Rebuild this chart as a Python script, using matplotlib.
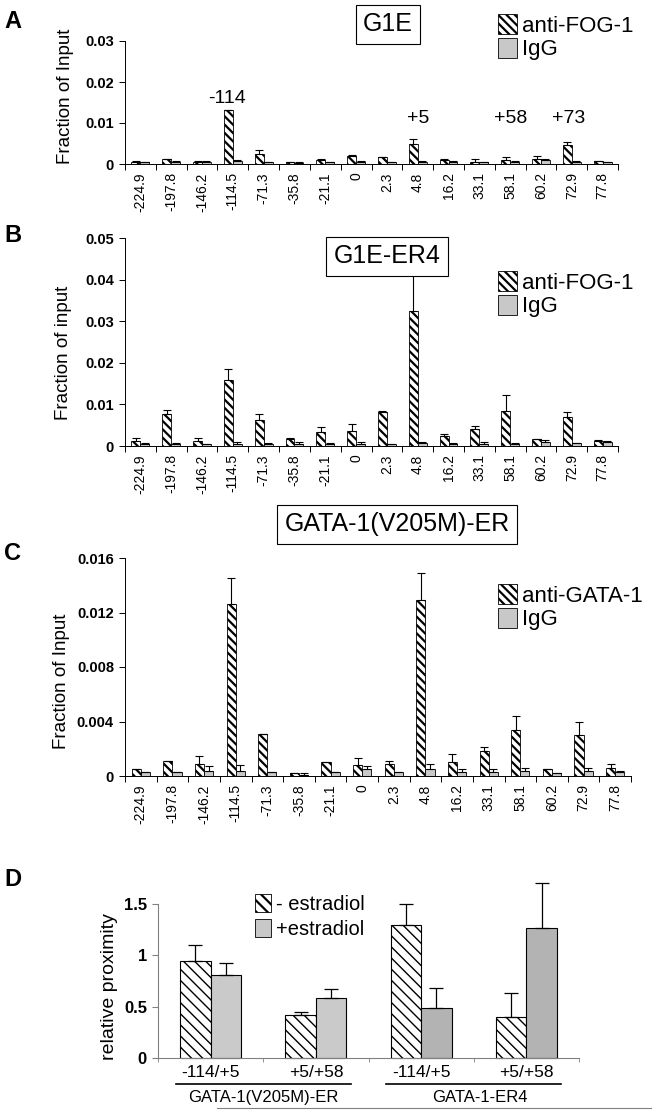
import numpy as np
import matplotlib.pyplot as plt
from matplotlib.patches import Patch
from matplotlib.lines import Line2D

plt.rcParams['font.family'] = ['Liberation Sans', 'DejaVu Sans']
plt.rcParams['hatch.color'] = 'black'
plt.rcParams['hatch.linewidth'] = 1.6

# positions along the locus (kb)
sites = ['-224.9', '-197.8', '-146.2', '-114.5', '-71.3', '-35.8', '-21.1', '0',
         '2.3', '4.8', '16.2', '33.1', '58.1', '60.2', '72.9', '77.8']

# A: G1E
a_fog = [0.0006, 0.0011, 0.0006, 0.0131, 0.0024, 0.0004, 0.0010, 0.0020,
         0.0017, 0.0050, 0.0010, 0.0005, 0.0010, 0.0011, 0.0047, 0.0007]
a_fog_err = [0.0001, 0.0001, 0.0001, 0.0001, 0.0011, 0.0001, 0.0002, 0.0001,
             0.0001, 0.0010, 0.0001, 0.0006, 0.0007, 0.0009, 0.0006, 0.0001]
a_igg = [0.0005, 0.0006, 0.0006, 0.0008, 0.0004, 0.0003, 0.0004, 0.0006,
         0.0004, 0.0006, 0.0006, 0.0004, 0.0006, 0.0009, 0.0006, 0.0005]
a_igg_err = [0.0001, 0.0001, 0.0001, 0.0001, 0.0001, 0.0001, 0.0001, 0.0001,
             0.0001, 0.0001, 0.0001, 0.0001, 0.0001, 0.0003, 0.0002, 0.0001]

# B: G1E-ER4
b_fog = [0.0012, 0.0078, 0.0012, 0.0158, 0.0063, 0.0018, 0.0033, 0.0036,
         0.0081, 0.0324, 0.0023, 0.0042, 0.0084, 0.0017, 0.0069, 0.0013]
b_fog_err = [0.0008, 0.0009, 0.0008, 0.0028, 0.0015, 0.0001, 0.0013, 0.0017,
             0.0004, 0.0093, 0.0007, 0.0007, 0.0039, 0.0001, 0.0013, 0.0001]
b_igg = [0.0004, 0.0004, 0.0004, 0.0004, 0.0004, 0.0005, 0.0004, 0.0004,
         0.0004, 0.0007, 0.0004, 0.0004, 0.0004, 0.0010, 0.0007, 0.0010]
b_igg_err = [0.0004, 0.0004, 0.0001, 0.0006, 0.0004, 0.0005, 0.0004, 0.0006,
             0.0001, 0.0003, 0.0004, 0.0006, 0.0004, 0.0005, 0.0001, 0.0001]

# C: GATA-1(V205M)-ER
c_gata = [0.0005, 0.0011, 0.0009, 0.0126, 0.0031, 0.0002, 0.0010, 0.0008,
          0.0009, 0.0129, 0.0010, 0.0018, 0.0034, 0.0005, 0.0030, 0.0006]
c_gata_err = [0, 0, 0.0006, 0.0019, 0, 0, 0, 0.0005,
              0.0002, 0.0020, 0.0006, 0.0003, 0.0010, 0, 0.0010, 0.0003]
c_igg = [0.0003, 0.0003, 0.0004, 0.0004, 0.0003, 0.0001, 0.0003, 0.0005,
         0.0003, 0.0005, 0.0003, 0.0003, 0.0004, 0.0002, 0.0004, 0.0003]
c_igg_err = [0, 0, 0.0003, 0.0004, 0, 0.0001, 0, 0.0002,
             0, 0.0004, 0.0002, 0.0002, 0.0002, 0, 0.0002, 0.0001]

# D: relative proximity
d_pairs = ['-114/+5', '+5/+58', '-114/+5', '+5/+58']
d_lines = ['GATA-1(V205M)-ER', 'GATA-1-ER4']
d_minus = [0.94, 0.42, 1.30, 0.40]
d_minus_err = [0.16, 0.03, 0.20, 0.23]
d_plus = [0.81, 0.58, 0.49, 1.27]
d_plus_err = [0.12, 0.09, 0.19, 0.43]
d_plus_colors = ['#cacaca', '#cacaca', '#b3b3b3', '#b3b3b3']

W, H = 652, 1110
fig = plt.figure(figsize=(W / 100, H / 100), dpi=100)


def frac(left, top, right, bottom):
    # pixel box -> figure fraction rect
    return [left / W, 1 - bottom / H, (right - left) / W, (bottom - top) / H]


HATCH = '\\\\\\\\'


def thin_hatch(patches, lw=1.0):
    # thinner hatch lines for panel D (if this matplotlib supports it)
    for p in patches:
        if hasattr(p, 'set_hatch_linewidth'):
            p.set_hatch_linewidth(lw)


def chip_panel(rect, ab, ab_err, igg, igg_err, yticks, ylabels):
    ax = fig.add_axes(rect)
    x = np.arange(len(sites))
    w = 0.29
    ax.bar(x - w / 2, ab, w, color='white', edgecolor='black', hatch=HATCH,
           linewidth=0.6, zorder=2)
    ax.bar(x + w / 2, igg, w, color='#c8c8c8', edgecolor='black',
           linewidth=0.6, zorder=2)
    ax.errorbar(x - w / 2, ab, yerr=[np.zeros(len(ab)), ab_err], fmt='none',
                ecolor='black', elinewidth=0.8, capsize=3, capthick=0.8, zorder=3)
    ax.errorbar(x + w / 2, igg, yerr=[np.zeros(len(igg)), igg_err], fmt='none',
                ecolor='black', elinewidth=0.8, capsize=3, capthick=0.8, zorder=3)
    ax.set_xlim(-0.5, len(sites) - 0.5)
    ax.set_ylim(yticks[0], yticks[-1])
    ax.set_yticks(yticks)
    ax.set_yticklabels(ylabels, fontsize=10.5, fontweight='bold')
    ax.set_xticks(x)
    ax.set_xticklabels(sites, rotation=90, fontsize=10)
    ax.set_xticks(np.arange(len(sites) + 1) - 0.5, minor=True)
    ax.tick_params(axis='x', which='major', length=0, pad=6)
    ax.tick_params(axis='x', which='minor', length=4, direction='out', width=0.7)
    ax.tick_params(axis='y', length=4, direction='out', width=0.7, pad=4)
    for s in ['top', 'right']:
        ax.spines[s].set_visible(False)
    for s in ['left', 'bottom']:
        ax.spines[s].set_linewidth(0.7)
    return ax


def legend(ax, labels, x, y):
    handles = [Patch(facecolor='white', edgecolor='black', hatch=HATCH, linewidth=0.6),
               Patch(facecolor='#c8c8c8', edgecolor='black', linewidth=0.6)]
    ax.legend(handles, labels, loc='upper left', bbox_to_anchor=(x / W, 1 - y / H),
              bbox_transform=fig.transFigure, frameon=False, fontsize=16,
              handlelength=0.85, handleheight=1.0, handletextpad=0.25,
              labelspacing=0.05, borderpad=0, borderaxespad=0)


def title_box(text, cx, cy):
    fig.text(cx / W, 1 - cy / H, text, fontsize=18, ha='center', va='center',
             bbox=dict(boxstyle='square,pad=0.3', facecolor='white',
                       edgecolor='black', linewidth=0.8))


def letter(text, y):
    fig.text(4 / W, 1 - y / H, text, fontsize=17, fontweight='bold', va='top')


# ---- A
axA = chip_panel(frac(125, 41, 618, 164), a_fog, a_fog_err, a_igg, a_igg_err,
                 [0, 0.01, 0.02, 0.03], ['0', '0.01', '0.02', '0.03'])
for lab, xi, yi in [('-114', 2.8, 0.0159), ('+5', 9, 0.0112),
                    ('+58', 12, 0.0112), ('+73', 13.9, 0.0112)]:
    axA.text(xi, yi, lab, fontsize=14, ha='center', va='center')
legend(axA, ['anti-FOG-1', 'IgG'], 498, 14)
title_box('G1E', 388, 24)
letter('A', 10)
fig.text(0.101, 1 - 96 / H, 'Fraction of Input', rotation=90, fontsize=13.5,
         ha='center', va='center')

# ---- B
axB = chip_panel(frac(125, 238, 618, 446), b_fog, b_fog_err, b_igg, b_igg_err,
                 [0, 0.01, 0.02, 0.03, 0.04, 0.05],
                 ['0', '0.01', '0.02', '0.03', '0.04', '0.05'])
legend(axB, ['anti-FOG-1', 'IgG'], 498, 271)
title_box('G1E-ER4', 387, 256)
letter('B', 224)
fig.text(0.097, 1 - 353 / H, 'Fraction of input', rotation=90, fontsize=13.5,
         ha='center', va='center')

# ---- C
axC = chip_panel(frac(125, 558, 631, 776), c_gata, c_gata_err, c_igg, c_igg_err,
                 [0, 0.004, 0.008, 0.012, 0.016],
                 ['0', '0.004', '0.008', '0.012', '0.016'])
legend(axC, ['anti-GATA-1', 'IgG'], 498, 584)
title_box('GATA-1(V205M)-ER', 397, 524)
letter('C', 542)
fig.text(0.095, 1 - 681 / H, 'Fraction of Input', rotation=90, fontsize=13.5,
         ha='center', va='center')

# ---- D
axD = fig.add_axes(frac(158, 904, 579, 1058))
xd = np.arange(len(d_pairs))
wd = 0.29
bars_minus = axD.bar(xd - wd / 2, d_minus, wd, color='white', edgecolor='black',
                     hatch='\\\\\\', linewidth=0.8, zorder=2, clip_on=False)
thin_hatch(bars_minus)
axD.bar(xd + wd / 2, d_plus, wd, color=d_plus_colors, edgecolor='black',
        linewidth=0.8, zorder=2, clip_on=False)
for xs, vals, errs in [(xd - wd / 2, d_minus, d_minus_err), (xd + wd / 2, d_plus, d_plus_err)]:
    eb = axD.errorbar(xs, vals, yerr=[np.zeros(len(vals)), errs], fmt='none',
                      ecolor='black', elinewidth=0.9, capsize=5, capthick=0.9, zorder=3)
    for art in eb.lines[1] + eb.lines[2]:
        art.set_clip_on(False)
axD.set_xlim(-0.5, len(d_pairs) - 0.5)
axD.set_ylim(0, 1.5)
axD.set_yticks([0, 0.5, 1, 1.5])
axD.set_yticklabels(['0', '0.5', '1', '1.5'], fontsize=12, fontweight='bold')
axD.set_xticks(xd)
axD.set_xticklabels(d_pairs, fontsize=12.5)
axD.set_xticks(np.arange(len(d_pairs) + 1) - 0.5, minor=True)
axD.tick_params(axis='x', which='major', length=0, pad=5)
axD.tick_params(axis='x', which='minor', length=3, direction='out', color='#808080')
axD.tick_params(axis='y', length=4, direction='out', color='#808080', pad=4)
for s in ['top', 'right']:
    axD.spines[s].set_visible(False)
for s in ['left', 'bottom']:
    axD.spines[s].set_color('#808080')
    axD.spines[s].set_linewidth(0.8)
trans = axD.get_xaxis_transform()
for i, name in enumerate(d_lines):
    cx = 2 * i + 0.5
    axD.add_line(Line2D([cx - 0.83, cx + 0.83], [-0.17, -0.17], transform=trans,
                        color='black', linewidth=1.2, clip_on=False))
    axD.text(cx + 0.06 * i, -0.255, name, transform=trans, fontsize=12,
             ha='center', va='center')
hd = [Patch(facecolor='white', edgecolor='black', hatch='\\\\\\', linewidth=0.6),
      Patch(facecolor='#c8c8c8', edgecolor='black', linewidth=0.6)]
thin_hatch(hd[:1])
axD.legend(hd, ['- estradiol', '+estradiol'], loc='upper left',
           bbox_to_anchor=(255 / W, 1 - 894 / H), bbox_transform=fig.transFigure,
           frameon=False, fontsize=14.5, handlelength=0.8, handleheight=1.0,
           handletextpad=0.25, labelspacing=0.25, borderpad=0, borderaxespad=0)
letter('D', 868)
fig.text(110 / W, 1 - 987 / H, 'relative proximity', rotation=90, fontsize=14,
         ha='center', va='center')
fig.add_artist(Line2D([217 / W, 1.0], [1 - 1108 / H] * 2, color='#808080',
                      linewidth=0.8))

fig.savefig('out.png', dpi=100)
